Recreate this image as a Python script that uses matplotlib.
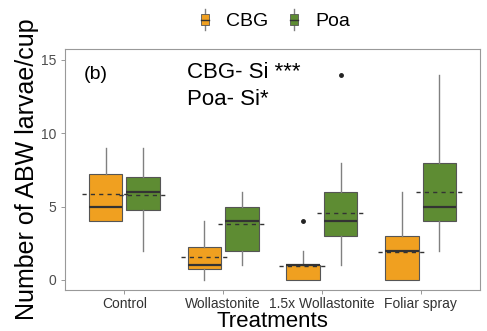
import numpy as np
import matplotlib
matplotlib.use('Agg')
import matplotlib.pyplot as plt
from matplotlib.legend_handler import HandlerBase
from matplotlib.patches import Rectangle
from matplotlib.lines import Line2D

plt.rcParams['font.family'] = ['Liberation Sans', 'DejaVu Sans']

treatments = ["Control", "Wollastonite", "1.5x Wollastonite", "Foliar spray"]
species = ["CBG", "Poa"]
colors = {"CBG": "#F0A020", "Poa": "#5E8C33"}

# box statistics, one value per treatment
cbg_whislo = [4, 0, 0, 0]
cbg_q1 = [4, 0.75, 0, 0]
cbg_med = [5, 1, 1, 2]
cbg_q3 = [7.25, 2.25, 1, 3]
cbg_whishi = [9, 4, 2, 6]
cbg_mean = [5.85, 1.55, 0.92, 1.9]
cbg_fliers = [[], [], [4], []]

poa_whislo = [2, 1, 1, 2]
poa_q1 = [4.75, 2, 3, 4]
poa_med = [6, 4, 4, 5]
poa_q3 = [7, 5, 6, 8]
poa_whishi = [9, 6, 8, 14]
poa_mean = [5.8, 3.8, 4.6, 6.0]
poa_fliers = [[], [], [14], []]


def make_stats(whislo, q1, med, q3, whishi, mean, fliers):
    return [dict(whislo=a, q1=b, med=c, q3=d, whishi=e, mean=m, fliers=f)
            for a, b, c, d, e, m, f in zip(whislo, q1, med, q3, whishi, mean, fliers)]


stats = {
    "CBG": make_stats(cbg_whislo, cbg_q1, cbg_med, cbg_q3, cbg_whishi, cbg_mean, cbg_fliers),
    "Poa": make_stats(poa_whislo, poa_q1, poa_med, poa_q3, poa_whishi, poa_mean, poa_fliers),
}

fig = plt.figure(figsize=(4.87, 3.31), dpi=100)
ax = fig.add_axes([0.1335, 0.124, 0.852, 0.728])

x = np.arange(1, len(treatments) + 1)
offsets = {"CBG": -0.19, "Poa": 0.19}
box_w = 0.34

for sp in species:
    pos = x + offsets[sp]
    ax.bxp(stats[sp], positions=pos, widths=box_w, patch_artist=True,
           showcaps=False, showmeans=False,
           boxprops=dict(facecolor=colors[sp], edgecolor="#555555", linewidth=0.8),
           whiskerprops=dict(color="#808080", linewidth=1.0),
           medianprops=dict(color="#333333", linewidth=1.6),
           flierprops=dict(marker="o", markersize=2.5, markerfacecolor="#222222",
                           markeredgecolor="#222222"),
           zorder=2)
    # dashed mean line, a bit wider than the box
    means = [s["mean"] for s in stats[sp]]
    ax.hlines(means, pos - 0.24, pos + 0.24, colors="#333333", linestyles=(0, (3, 3)),
              linewidth=1.0, zorder=4)

ax.set_xlim(0.4, 4.6)
ax.set_ylim(-0.68, 15.75)
ax.set_xticks(x)
ax.set_xticklabels(treatments, fontsize=10, color="#333333")
ax.set_yticks([0, 5, 10, 15])
ax.tick_params(axis="y", labelsize=10, labelcolor="#4d4d4d", color="#888888", length=3, width=0.6)
ax.tick_params(axis="x", color="#888888", length=3, width=0.6, pad=2)
for sp_ in ax.spines.values():
    sp_.set_color("#999999")
    sp_.set_linewidth(0.8)

ax.set_xlabel("Treatments", fontsize=16, labelpad=0)
ax.set_ylabel("Number of ABW larvae/cup", fontsize=18, labelpad=1)

ax.text(0.045, 0.875, "(b)", transform=ax.transAxes, fontsize=14)
ax.text(0.294, 0.88, "CBG- Si ***", transform=ax.transAxes, fontsize=16)
ax.text(0.294, 0.768, "Poa- Si*", transform=ax.transAxes, fontsize=16)


class BoxHandler(HandlerBase):
    def create_artists(self, legend, orig_handle, xdescent, ydescent, width, height, fontsize, trans):
        cx = xdescent + width / 2.0
        bw = width * 0.45
        bh = height * 0.8
        cy = height / 2.0 - ydescent
        wl = Line2D([cx, cx], [cy - height * 0.75, cy + height * 0.75], color="#808080",
                    linewidth=1.0, transform=trans)
        box = Rectangle((cx - bw / 2, cy - bh / 2), bw, bh, facecolor=orig_handle.get_facecolor(),
                        edgecolor="#555555", linewidth=0.6, transform=trans)
        med = Line2D([cx - bw / 2, cx + bw / 2], [cy, cy], color="#333333",
                     linewidth=1.0, transform=trans)
        return [wl, box, med]


handles = [Rectangle((0, 0), 1, 1, facecolor=colors[s]) for s in species]
fig.legend(handles, species, handler_map={Rectangle: BoxHandler()},
           loc="center", bbox_to_anchor=(0.56, 0.935), ncol=2, frameon=False,
           fontsize=14, handlelength=1.0, handletextpad=0.6, columnspacing=0.8)

fig.savefig("out.png", dpi=100)
